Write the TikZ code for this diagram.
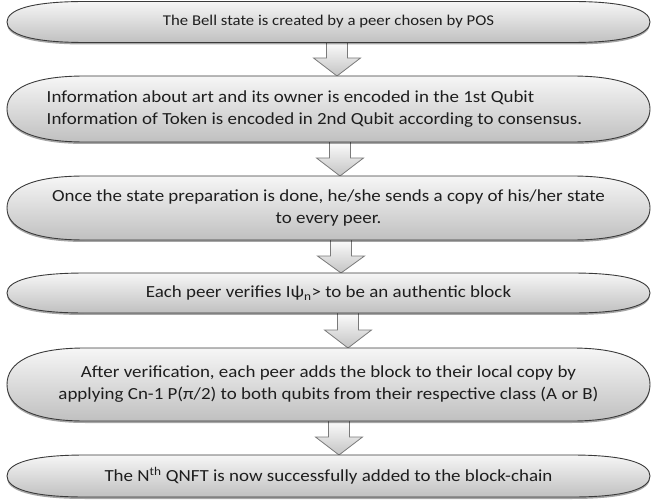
\documentclass[tikz,border=0pt]{standalone}
\usepackage{fontspec}
\setmainfont{Carlito}[FakeStretch=1.12]
\usetikzlibrary{shadows}
\definecolor{boxtop}{HTML}{F6F6F6}
\definecolor{boxbot}{HTML}{C0C0C0}
\definecolor{boxedge}{HTML}{3A3A3A}
\definecolor{arredge}{HTML}{7A7A7A}
\definecolor{arrbot}{HTML}{C4C4C4}
\definecolor{txtcol}{HTML}{1E1E1E}
\tikzset{
  lensshape/.style={draw=boxedge, line width=0.9pt, top color=boxtop, bottom color=boxbot,
    drop shadow={shadow xshift=0pt, shadow yshift=-2pt, opacity=0.35, fill=black}},
  arrshape/.style={draw=arredge, line width=0.8pt, top color=white, bottom color=arrbot},
  txt/.style={text=txtcol, font=\fontsize{17}{22}\selectfont, align=center, inner sep=0pt},
  smalltxt/.style={font=\fontsize{15}{20}\selectfont}
}
% [align], name, y centre, half height, text, extra style
\newcommand\lensbox[6][center]{%
  \begin{scope}[yshift=-#3bp]
  \path[lensshape] (7,0) .. controls (7,{0.6*#4}) and (31,#4) .. (85,#4)
     -- (572,#4) .. controls (626,#4) and (650,{0.6*#4}) .. (650,0)
     .. controls (650,{-0.6*#4}) and (626,-#4) .. (572,-#4)
     -- (85,-#4) .. controls (31,-#4) and (7,{-0.6*#4}) .. cycle;
  \end{scope}
  \node[txt, align=#1, #6] (#2) at (328.5,-#3) {#5};%
}
% name, x, y top, y head, y tip
\newcommand\blockarrow[5]{%
  \coordinate (#1) at (#2,-#5);
  \path[arrshape] (#2-10.5,-#3) -- (#2-10.5,-#4) -- (#2-23.5,-#4) -- (#1)
     -- (#2+23.5,-#4) -- (#2+10.5,-#4) -- (#2+10.5,-#3) -- cycle;%
}
\begin{document}
\begin{tikzpicture}[x=1bp,y=1bp]
\useasboundingbox (0,0) rectangle (652,-504);
\fill[white] (0,0) rectangle (652,-504);
\blockarrow{a1}{337}{40}{58}{76}
\blockarrow{a2}{340}{140}{158}{176}
\blockarrow{a3}{341}{238}{256}{273}
\blockarrow{a4}{348}{311}{330}{348}
\blockarrow{a5}{339}{419}{437}{455}
\lensbox{b1}{22}{20.5}{The Bell state is created by a peer chosen by POS}{smalltxt}
\lensbox[left]{b2}{109}{33}{Information about art and its owner is encoded in the 1st Qubit\\Information of Token is encoded in 2nd Qubit according to consensus.}{xshift=-14bp}
\lensbox{b3}{208}{32}{Once the state preparation is done, he/she sends a copy of his/her state\\to every peer.}{}
\lensbox{b4}{293}{20}{Each peer verifies Iψ\textsubscript{n}> to be an authentic block}{}
\lensbox{b5}{384.5}{36.5}{After verification, each peer adds the block to their local copy by\\applying Cn-1 P(π/2) to both qubits from their respective class (A or B)}{}
\lensbox{b6}{476}{21}{The N\textsuperscript{th} QNFT is now successfully added to the block-chain}{}
\end{tikzpicture}
\end{document}
